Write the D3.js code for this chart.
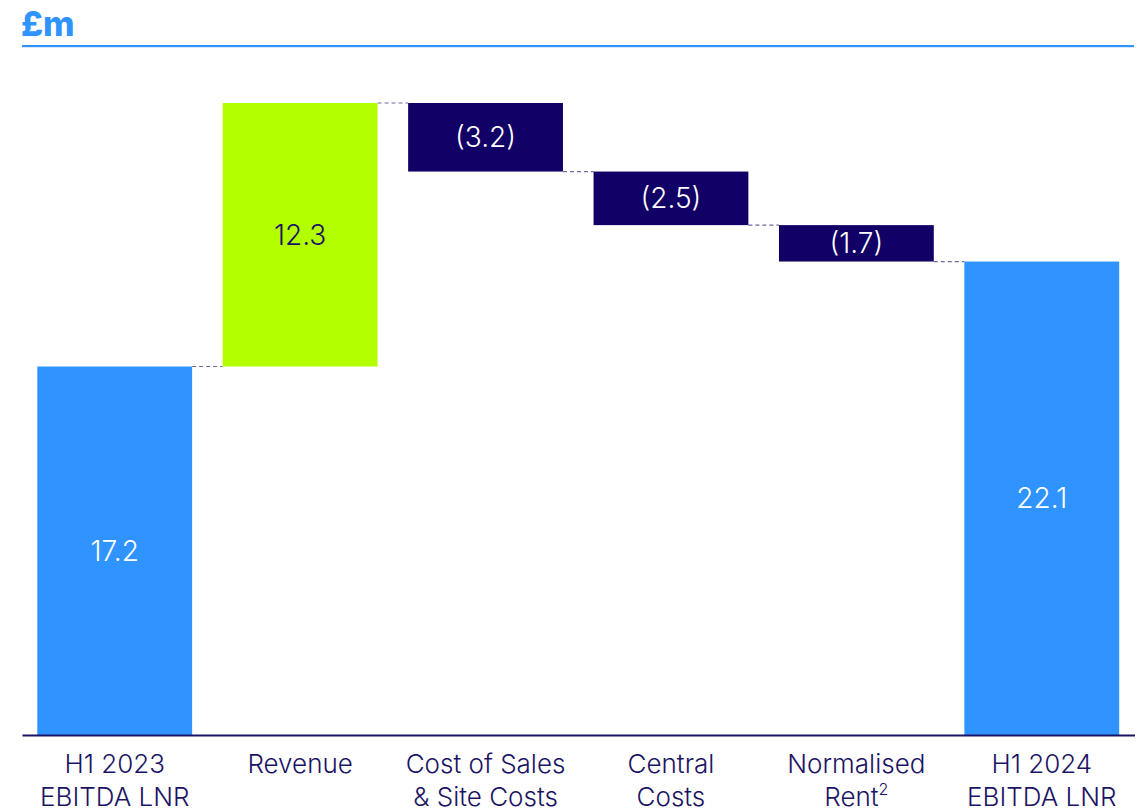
<!DOCTYPE html>
<html><head><meta charset="utf-8">
<script src="https://cdn.jsdelivr.net/npm/d3@7"></script>
<style>body{margin:0;background:#fff;} svg{display:block;}</style>
</head><body>
<svg id="c" width="1140" height="809"></svg>
<script>
const categories = ["H1 2023|EBITDA LNR","Revenue","Cost of Sales|& Site Costs","Central|Costs","Normalised|Rent^2","H1 2024|EBITDA LNR"];
const values = [17.2, 12.3, -3.2, -2.5, -1.7, 22.1];
const kinds = ["total","up","down","down","down","total"];
const valueLabels = ["17.2","12.3","(3.2)","(2.5)","(1.7)","22.1"];

const W=1140,H=809;
const svg=d3.select("#c");
const navy="#110066", blue="#2f94ff", lime="#b3ff00", textC="#1b1464";
const font="Inter, 'Noto Sans', sans-serif";

// title
svg.append("text").attr("x",21).attr("y",36).attr("fill",blue)
  .attr("font-family",font).attr("font-weight",800).attr("font-size",34).text("£m");
svg.append("rect").attr("x",22).attr("y",45).attr("width",1112).attr("height",2.2).attr("fill",blue);

const x=d3.scaleBand().domain(categories).range([22,1134.5]).paddingInner(0.165).paddingOuter(0.0825);
const y=d3.scaleLinear().domain([0,29.5]).range([735,103]);

// compute waterfall
let run=0; const bars=[];
values.forEach((v,i)=>{
  let y0,y1;
  if(kinds[i]==="total"){y0=0;y1=v;run=v;}
  else {y0=run;y1=run+v;run=y1;}
  bars.push({cat:categories[i],y0,y1,kind:kinds[i],label:valueLabels[i],end:run});
});

const fill=k=>k==="total"?blue:(k==="up"?lime:navy);

// connectors
for(let i=0;i<bars.length-1;i++){
  const lvl=bars[i].end;
  svg.append("line")
    .attr("x1",x(bars[i].cat)+x.bandwidth()).attr("x2",x(bars[i+1].cat))
    .attr("y1",y(lvl)).attr("y2",y(lvl))
    .attr("stroke","#6e68a3").attr("stroke-width",1.2).attr("stroke-dasharray","4,3");
}

svg.selectAll("rect.bar").data(bars).enter().append("rect").attr("class","bar")
  .attr("x",d=>x(d.cat)).attr("width",x.bandwidth())
  .attr("y",d=>y(Math.max(d.y0,d.y1))).attr("height",d=>Math.abs(y(d.y0)-y(d.y1)))
  .attr("fill",d=>fill(d.kind));

svg.selectAll("text.val").data(bars).enter().append("text").attr("class","val")
  .attr("x",d=>x(d.cat)+x.bandwidth()/2)
  .attr("y",d=>(y(d.y0)+y(d.y1))/2)
  .attr("dy","0.36em").attr("text-anchor","middle")
  .attr("font-family",font).attr("font-weight",300).attr("font-size",28)
  .attr("fill",d=>d.kind==="up"?textC:"#fff").text(d=>d.label);

// axis
const ax=svg.append("g").attr("transform","translate(0,735)").call(d3.axisBottom(x).tickSize(0).tickFormat(""));
ax.select(".domain").attr("stroke",textC).attr("stroke-width",2);
ax.selectAll(".tick text").remove();
categories.forEach(c=>{
  const lines=c.split("|");
  const cx=x(c)+x.bandwidth()/2;
  const t=svg.append("text").attr("x",cx).attr("text-anchor","middle")
    .attr("font-family",font).attr("font-weight",300).attr("font-size",26).attr("fill",textC);
  lines.forEach((l,j)=>{
    const parts=l.split("^");
    const ts=t.append("tspan").attr("x",cx).attr("y",773+j*33).text(parts[0]);
    if(parts[1]){
      t.append("tspan").attr("dy",-11).attr("font-size",16).text(parts[1]);
    }
  });
});
</script>
</body></html>
